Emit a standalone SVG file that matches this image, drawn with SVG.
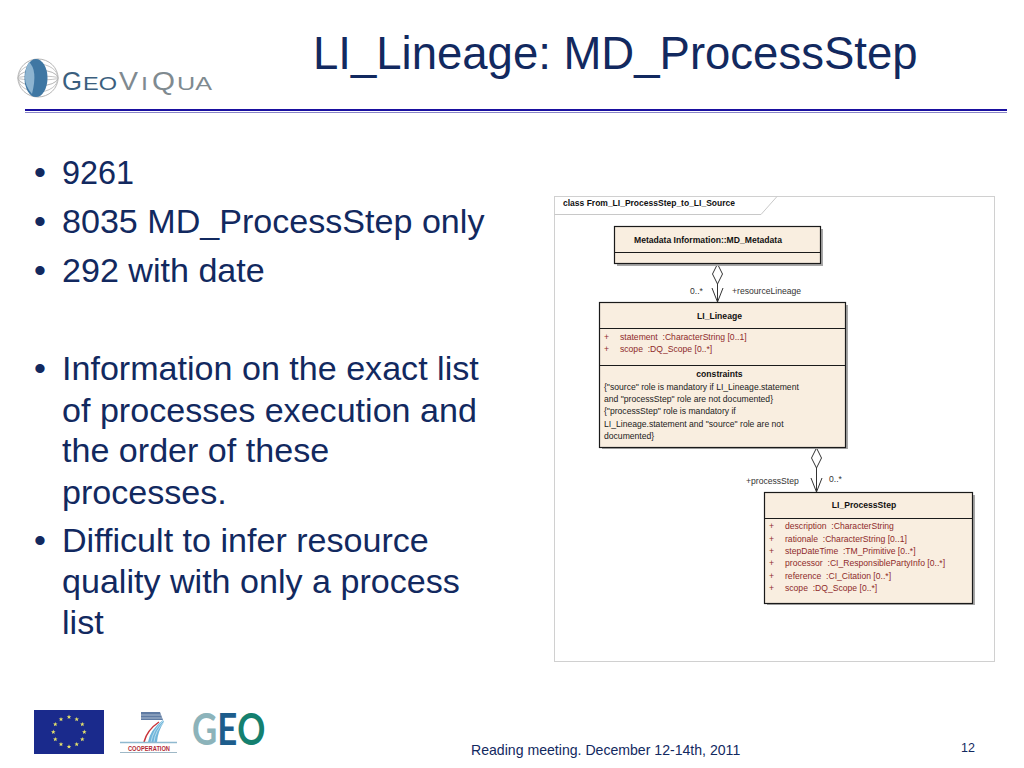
<svg xmlns="http://www.w3.org/2000/svg" width="1024" height="768" viewBox="0 0 1024 768">
<style>
text{font-family:"Liberation Sans",Arial,sans-serif;white-space:pre}
.t{font-size:45.500px;fill:#12295f}
.b{font-size:34.100px;fill:#12295f}
.n{fill:#f9eee0;stroke:#1a1a1a;stroke-width:1.200}
.s{fill:#a8a8a8}
.d{stroke:#1a1a1a;stroke-width:1;fill:none}
.h{font-size:8.600px;font-weight:bold;fill:#111;text-anchor:middle}
.a{font-size:8.600px;fill:#8e2a2a}
.c{font-size:8.600px;fill:#222}
.l{font-size:8.600px;fill:#333}
.o{fill:none;stroke:#333;stroke-width:1}
.e{fill:#fff;stroke:#333;stroke-width:1}
.g1{fill:#3b5f7e}
.g2{fill:#7f8a90}
</style>
<defs><polygon id="star" points="0,-2.400 0.600,-0.800 2.300,-0.700 1,0.300 1.400,1.900 0,1 -1.400,1.900 -1,0.300 -2.300,-0.700 -0.600,-0.800" fill="#e6e26a"/></defs>
<rect width="1024" height="768" fill="#fff"/>
<text class="t" x="313" y="69">LI_Lineage: MD_ProcessStep</text>
<g id="logo-geoviqua">
<ellipse cx="38" cy="78" rx="20" ry="19" fill="none" stroke="#b5b5b5"/>
<ellipse cx="38" cy="78" rx="20" ry="14" fill="none" stroke="#c5c5c5"/>
<ellipse cx="38" cy="78" rx="20" ry="8" fill="none" stroke="#b5b5b5"/>
<ellipse cx="38" cy="78" rx="20" ry="2" fill="none" stroke="#c5c5c5"/>
<ellipse cx="36" cy="78" rx="11.500" ry="19" fill="#3f77a3"/>
<path d="M29 62Q38 70 32 94Q25 86 25 78Q25 69 29 62Z" fill="#8db4d0"/>
<text x="62" y="90" font-size="26" textLength="20" lengthAdjust="spacingAndGlyphs" class="g1">G</text>
<text x="83" y="90" font-size="18" textLength="34" lengthAdjust="spacingAndGlyphs" class="g1">EO</text>
<text x="119" y="90" font-size="26" textLength="19" lengthAdjust="spacingAndGlyphs" class="g2">V</text>
<text x="141" y="90" font-size="18" textLength="7" lengthAdjust="spacingAndGlyphs" class="g2">I</text>
<text x="152" y="90" font-size="26" textLength="23" lengthAdjust="spacingAndGlyphs" class="g2">Q</text>
<text x="177" y="90" font-size="18" textLength="35" lengthAdjust="spacingAndGlyphs" class="g2">UA</text>
</g>
<rect x="25" y="109" width="982" height="2" fill="#1a10a0"/>
<rect x="25" y="112" width="982" height="1" fill="#8a86c8"/>
<g id="bullets">
<text class="b" x="34" y="184">•</text><text class="b" x="62" y="184" textLength="72" lengthAdjust="spacingAndGlyphs">9261</text>
<text class="b" x="34" y="233">•</text><text class="b" x="62" y="233">8035 MD_ProcessStep only</text>
<text class="b" x="34" y="282">•</text><text class="b" x="62" y="282">292 with date</text>
<text class="b" x="34" y="380">•</text><text class="b" x="62" y="380">Information on the exact list</text>
<text class="b" x="62" y="422">of processes execution and</text>
<text class="b" x="62" y="462">the order of these</text>
<text class="b" x="62" y="504">processes.</text>
<text class="b" x="34" y="552">•</text><text class="b" x="62" y="552">Difficult to infer resource</text>
<text class="b" x="62" y="593">quality with only a process</text>
<text class="b" x="62" y="634">list</text>
</g>
<g id="frame">
<rect x="554.500" y="196.500" width="440" height="465" fill="#fff" stroke="#d0d0d0"/>
<path d="M554.500 214.500H761L777 196.500" fill="none" stroke="#c8c8c8"/>
<text x="563" y="206" font-size="8.500" font-weight="bold" fill="#111">class From_LI_ProcessStep_to_LI_Source</text>
</g>
<g id="connectors">
<path class="e" d="M717.500 264L722.500 274L717.500 284L712.500 274Z"/>
<path class="o" d="M717.500 284V302M712 288L717.500 302L723 288"/>
<path class="e" d="M816.500 448L821.500 458L816.500 468L811.500 458Z"/>
<path class="o" d="M816.500 468V492M811 478L816.500 492L822 478"/>
<text class="l" x="690" y="294">0..*</text>
<text class="l" x="732" y="294">+resourceLineage</text>
<text class="l" x="746" y="484">+processStep</text>
<text class="l" x="829" y="482">0..*</text>
</g>
<g id="md-metadata">
<rect class="s" x="617" y="229" width="206" height="37"/>
<rect class="n" x="614.500" y="226.500" width="206" height="37"/>
<path class="d" d="M614.500 252.500H820.500"/>
<text class="h" x="708" y="243">Metadata Information::MD_Metadata</text>
</g>
<g id="li-lineage">
<rect class="s" x="602" y="305" width="246" height="144"/>
<rect class="n" x="599.500" y="302.500" width="246" height="145"/>
<path class="d" d="M599.500 328.500H845.500M599.500 365.500H845.500"/>
<text class="h" x="719.500" y="319">LI_Lineage</text>
<text class="a" x="604" y="340">+</text><text class="a" x="620" y="340">statement  :CharacterString [0..1]</text>
<text class="a" x="604" y="352">+</text><text class="a" x="620" y="352">scope  :DQ_Scope [0..*]</text>
<text class="h" x="719.500" y="377">constraints</text>
<text class="c" x="604" y="390">{"source" role is mandatory if LI_Lineage.statement</text>
<text class="c" x="604" y="402">and "processStep" role are not documented}</text>
<text class="c" x="604" y="414">{"processStep" role is mandatory if</text>
<text class="c" x="604" y="427">LI_Lineage.statement and "source" role are not</text>
<text class="c" x="604" y="439">documented}</text>
</g>
<g id="li-processstep">
<rect class="s" x="767" y="495" width="208" height="110"/>
<rect class="n" x="764.500" y="492.500" width="208" height="111"/>
<path class="d" d="M764.500 518.500H972.500"/>
<text class="h" x="864" y="508">LI_ProcessStep</text>
<text class="a" x="769" y="529">+</text><text class="a" x="785" y="529">description  :CharacterString</text>
<text class="a" x="769" y="542">+</text><text class="a" x="785" y="542">rationale  :CharacterString [0..1]</text>
<text class="a" x="769" y="554">+</text><text class="a" x="785" y="554">stepDateTime  :TM_Primitive [0..*]</text>
<text class="a" x="769" y="566">+</text><text class="a" x="785" y="566">processor  :CI_ResponsiblePartyInfo [0..*]</text>
<text class="a" x="769" y="579">+</text><text class="a" x="785" y="579">reference  :CI_Citation [0..*]</text>
<text class="a" x="769" y="591">+</text><text class="a" x="785" y="591">scope  :DQ_Scope [0..*]</text>
</g>
<g id="logo-eu">
<rect x="34" y="710" width="70" height="44" fill="#1a2a8c"/>
<use href="#star" x="69" y="717"/><use href="#star" x="76.700" y="719.300"/><use href="#star" x="82.300" y="724.300"/><use href="#star" x="84.300" y="732"/><use href="#star" x="82.300" y="739.300"/><use href="#star" x="76.700" y="744.300"/><use href="#star" x="69" y="746.700"/><use href="#star" x="61" y="744.300"/><use href="#star" x="55.300" y="739.300"/><use href="#star" x="53.300" y="732"/><use href="#star" x="55.300" y="724.300"/><use href="#star" x="61" y="719.300"/>
</g>
<g id="logo-fp7">
<path d="M141 712H160L163 720H141Z" fill="#5f7ba3"/>
<path d="M141 715H161M141 718H162" stroke="#cfd8e4" stroke-width="0.700"/>
<path d="M163 720Q150 730 148 742L157 742Q158 731 164 722Z" fill="#6fb5da"/>
<path d="M151 742Q153 730 163 721M154 742Q155 731 164 722" stroke="#d5ecf6" stroke-width="0.700" fill="none"/>
<path d="M159 722Q147 730 144 742" fill="none" stroke="#c8333a" stroke-width="1.500"/>
<path d="M120 742.500H177" stroke="#8fb9cf" stroke-width="1.500"/>
<text x="128" y="751" font-size="6.500" font-weight="bold" fill="#b22a35" textLength="42" lengthAdjust="spacingAndGlyphs">COOPERATION</text>
<path d="M120 752.500H177" stroke="#9fb8c6"/>
</g>
<g id="logo-geo">
<text transform="translate(192 745) scale(.79 1)" font-size="44" font-weight="700" style="font-family:Lato,sans-serif"><tspan fill="#8cb3ba">G</tspan><tspan fill="#1d5d8c">E</tspan><tspan fill="#14806f">O</tspan></text>
</g>
<text x="471" y="755" font-size="14.100" fill="#12295f">Reading meeting. December 12-14th, 2011</text>
<text x="961" y="752" font-size="12.500" fill="#12295f">12</text>
</svg>
